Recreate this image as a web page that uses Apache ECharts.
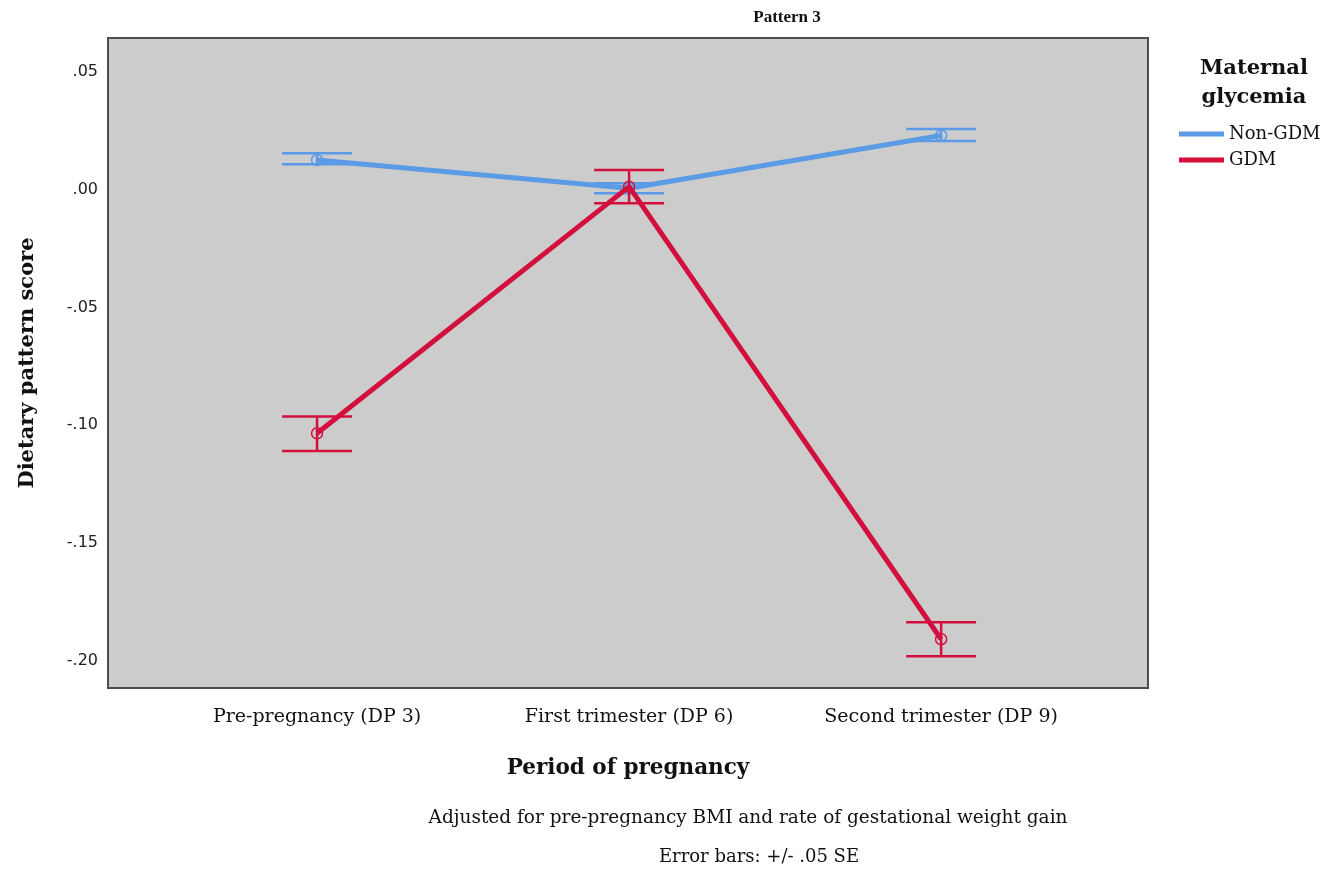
<!DOCTYPE html>
<html>
<head>
<meta charset="utf-8">
<script src="https://cdn.jsdelivr.net/npm/echarts@6/dist/echarts.min.js"></script>
<style>
  html, body { margin: 0; padding: 0; background: #fff; }
  #chart { width: 1344px; height: 869px; }
</style>
</head>
<body>
<div id="chart"></div>
<script>
// periods on the x axis
const periods = ['Pre-pregnancy (DP 3)', 'First trimester (DP 6)', 'Second trimester (DP 9)'];
const yTicks = [-0.20, -0.15, -0.10, -0.05, 0.00, 0.05];

// estimated marginal means
const nonGdmMean = [0.0126, 0.0006, 0.0230];
const gdmMean = [-0.1034, 0.0013, -0.1908];

// error bar ends (+/- .05 SE)
const nonGdmLow = [0.0108, -0.0015, 0.0207];
const nonGdmHigh = [0.0155, 0.0027, 0.0258];
const gdmLow = [-0.1109, -0.0057, -0.1980];
const gdmHigh = [-0.0963, 0.0084, -0.1836];

const BLUE = '#5b9be6';
const RED = '#d3103d';
const SERIF = 'DejaVu Serif';

function pairs (vals) {
  return vals.map((v, i) => [i, v]);
}
function bars (low, high) {
  return low.map((v, i) => [i, v, high[i]]);
}

// draws the I-shaped error bar through the axis scales
function errorBar (params, api) {
  const x = api.value(0);
  const lo = api.coord([x, api.value(1)]);
  const hi = api.coord([x, api.value(2)]);
  const half = 35;
  const style = { stroke: api.visual('color'), lineWidth: 2.5 };
  return {
    type: 'group',
    children: [
      { type: 'line', shape: { x1: lo[0], y1: lo[1], x2: hi[0], y2: hi[1] }, style: style },
      { type: 'line', shape: { x1: lo[0] - half, y1: lo[1], x2: lo[0] + half, y2: lo[1] }, style: style },
      { type: 'line', shape: { x1: hi[0] - half, y1: hi[1], x2: hi[0] + half, y2: hi[1] }, style: style }
    ]
  };
}

function meanLine (name, vals, color, z) {
  return {
    name: name,
    type: 'line',
    data: pairs(vals),
    color: color,
    lineStyle: { width: 5, color: color },
    symbol: 'circle',
    symbolSize: 11,
    itemStyle: { color: 'rgba(0,0,0,0)', borderColor: color, borderWidth: 1.5 },
    z: z
  };
}

const chart = echarts.init(document.getElementById('chart'));

const options = {
  animation: false,
  grid: {
    left: 108,
    right: 196,
    top: 38,
    bottom: 181,
    show: true,
    backgroundColor: '#cccccc',
    borderColor: '#4d4d4d',
    borderWidth: 2
  },
  legend: {
    data: [
      { name: 'Non-GDM', itemStyle: { color: BLUE, borderWidth: 0 } },
      { name: 'GDM', itemStyle: { color: RED, borderWidth: 0 } }
    ],
    orient: 'vertical',
    left: 1174,
    top: 120,
    icon: 'rect',
    itemWidth: 45,
    itemHeight: 5,
    itemGap: 8,
    textStyle: { fontFamily: SERIF, fontSize: 18, color: '#111' }
  },
  xAxis: {
    type: 'value',
    min: -0.67,
    max: 2.663,
    name: 'Period of pregnancy',
    nameLocation: 'middle',
    nameGap: 69,
    nameTextStyle: { fontFamily: SERIF, fontWeight: 'bold', fontSize: 21.5, color: '#111' },
    axisLine: { show: false },
    axisTick: { show: false },
    splitLine: { show: false },
    axisLabel: {
      customValues: [0, 1, 2],
      formatter: v => periods[Math.round(v)],
      margin: 20,
      fontFamily: SERIF,
      fontSize: 19,
      color: '#111'
    }
  },
  yAxis: {
    type: 'value',
    min: -0.2115,
    max: 0.0644,
    name: 'Dietary pattern score',
    nameLocation: 'middle',
    nameGap: 70,
    nameTextStyle: { fontFamily: SERIF, fontWeight: 'bold', fontSize: 21, color: '#111' },
    axisLine: { show: false },
    axisTick: { show: false },
    splitLine: { show: false },
    axisLabel: {
      customValues: yTicks,
      formatter: v => v.toFixed(2).replace('0.', '.'),
      margin: 10,
      fontFamily: 'DejaVu Sans',
      fontSize: 16,
      color: '#222'
    }
  },
  graphic: [
    {
      type: 'text', x: 787, y: 9,
      style: { text: 'Pattern 3', fontFamily: 'Liberation Serif', fontWeight: 'bold', fontSize: 17, fill: '#111', textAlign: 'center' }
    },
    {
      type: 'text', x: 1254, y: 54,
      style: { text: 'Maternal\nglycemia', fontFamily: SERIF, fontWeight: 'bold', fontSize: 21, lineHeight: 29, fill: '#111', align: 'center', textAlign: 'center' }
    },
    {
      type: 'text', x: 748, y: 809,
      style: { text: 'Adjusted for pre-pregnancy BMI and rate of gestational weight gain', fontFamily: SERIF, fontSize: 18.5, fill: '#111', textAlign: 'center' }
    },
    {
      type: 'text', x: 759, y: 848,
      style: { text: 'Error bars: +/- .05 SE', fontFamily: SERIF, fontSize: 18, fill: '#111', textAlign: 'center' }
    }
  ],
  series: [
    meanLine('Non-GDM', nonGdmMean, BLUE, 3),
    {
      name: 'Non-GDM bars',
      type: 'custom',
      data: bars(nonGdmLow, nonGdmHigh),
      color: BLUE,
      renderItem: errorBar,
      z: 2
    },
    meanLine('GDM', gdmMean, RED, 5),
    {
      name: 'GDM bars',
      type: 'custom',
      data: bars(gdmLow, gdmHigh),
      color: RED,
      renderItem: errorBar,
      z: 4
    }
  ]
};

chart.setOption(options);
</script>
</body>
</html>
